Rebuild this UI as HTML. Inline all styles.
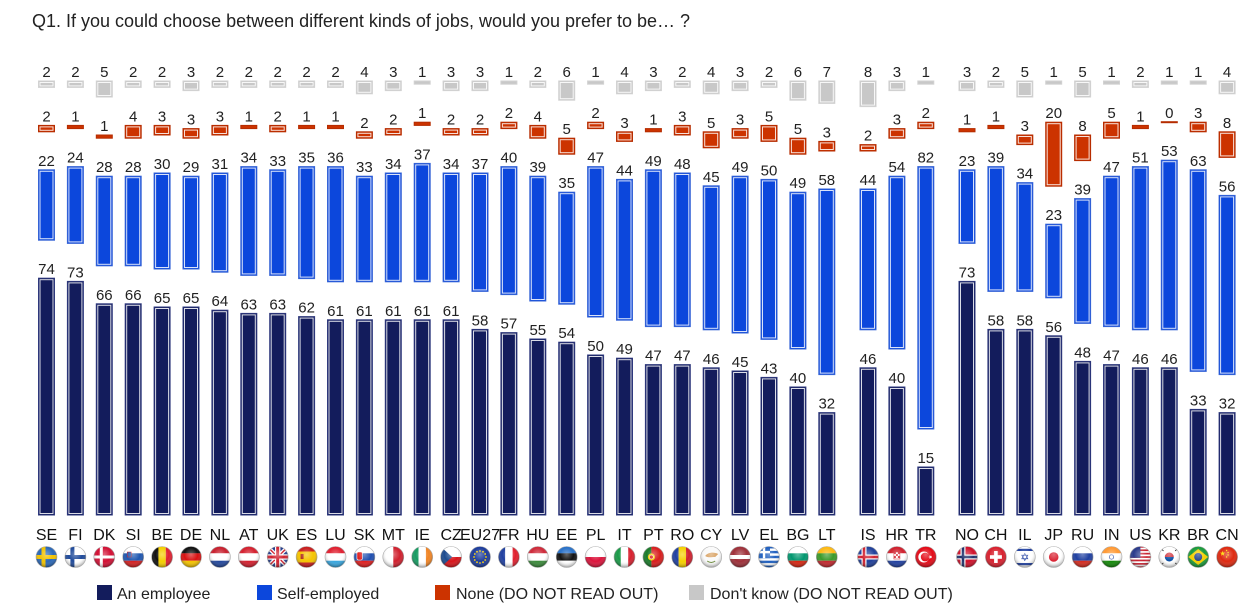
<!DOCTYPE html>
<html><head><meta charset="utf-8">
<style>
html,body{margin:0;padding:0;background:#fff;width:1256px;height:612px;overflow:hidden}
svg{display:block;font-family:"Liberation Sans",Arial,sans-serif}
.e{fill:#131c5c;stroke:#2e387c;stroke-width:1}
.s{fill:#0c47dc;stroke:#3563d6;stroke-width:1}
.n{fill:#cc3300;stroke:#b52c00;stroke-width:1}
.d{fill:#c8c8c8;stroke:#d2d2d2;stroke-width:1}
.w{fill:none;stroke:#fff;stroke-width:1;opacity:.85}
.v{font-size:15px;fill:#222;text-anchor:middle}
.c{font-size:16px;fill:#111;text-anchor:middle}
.l{font-size:16px;fill:#222}
</style></head><body>
<svg width="1256" height="612" viewBox="0 0 1256 612">
<defs>
<clipPath id="cc"><circle r="10.5"/></clipPath>
<radialGradient id="gl" cx="50%" cy="38%" r="60%">
<stop offset="0" stop-color="#fff" stop-opacity=".35"/>
<stop offset=".55" stop-color="#fff" stop-opacity="0"/>
<stop offset="1" stop-color="#000" stop-opacity=".35"/>
</radialGradient>
<polygon id="star" points="0,-1 .225,-.309 .951,-.309 .363,.118 .588,.809 0,.382 -.588,.809 -.363,.118 -.951,-.309 -.225,-.309"/>
</defs>

<text x="32" y="27" font-size="18" fill="#222">Q1. If you could choose between different kinds of jobs, would you prefer to be… ?</text>

<!-- SE -->
<g transform="translate(46.5,0)">
<rect class="d" x="-8" y="81" width="16" height="6.4"/><rect class="w" x="-6.5" y="82.5" width="13" height="3.4"/><text class="v" y="77">2</text>
<rect class="n" x="-8" y="125.4" width="16" height="6.4"/><rect class="w" x="-6.5" y="126.9" width="13" height="3.4"/><text class="v" y="121.4">2</text>
<rect class="s" x="-8" y="169.8" width="16" height="70.4"/><rect class="w" x="-6.5" y="171.3" width="13" height="67.4"/><text class="v" y="165.8">22</text>
<rect class="e" x="-8" y="278.2" width="16" height="236.8"/><rect class="w" x="-6.5" y="279.7" width="13" height="233.8"/><text class="v" y="274.2">74</text>
<text class="c" y="540">SE</text>
</g>
<!-- FI -->
<g transform="translate(75.4,0)">
<rect class="d" x="-8" y="81" width="16" height="6.4"/><rect class="w" x="-6.5" y="82.5" width="13" height="3.4"/><text class="v" y="77">2</text>
<rect class="n" x="-8" y="125.4" width="16" height="3.2"/><text class="v" y="121.4">1</text>
<rect class="s" x="-8" y="166.6" width="16" height="76.8"/><rect class="w" x="-6.5" y="168.1" width="13" height="73.8"/><text class="v" y="162.6">24</text>
<rect class="e" x="-8" y="281.4" width="16" height="233.6"/><rect class="w" x="-6.5" y="282.9" width="13" height="230.6"/><text class="v" y="277.4">73</text>
<text class="c" y="540">FI</text>
</g>
<!-- DK -->
<g transform="translate(104.3,0)">
<rect class="d" x="-8" y="81" width="16" height="16"/><rect class="w" x="-6.5" y="82.5" width="13" height="13"/><text class="v" y="77">5</text>
<rect class="n" x="-8" y="135" width="16" height="3.2"/><text class="v" y="131">1</text>
<rect class="s" x="-8" y="176.2" width="16" height="89.6"/><rect class="w" x="-6.5" y="177.7" width="13" height="86.6"/><text class="v" y="172.2">28</text>
<rect class="e" x="-8" y="303.8" width="16" height="211.2"/><rect class="w" x="-6.5" y="305.3" width="13" height="208.2"/><text class="v" y="299.8">66</text>
<text class="c" y="540">DK</text>
</g>
<!-- SI -->
<g transform="translate(133.2,0)">
<rect class="d" x="-8" y="81" width="16" height="6.4"/><rect class="w" x="-6.5" y="82.5" width="13" height="3.4"/><text class="v" y="77">2</text>
<rect class="n" x="-8" y="125.4" width="16" height="12.8"/><rect class="w" x="-6.5" y="126.9" width="13" height="9.8"/><text class="v" y="121.4">4</text>
<rect class="s" x="-8" y="176.2" width="16" height="89.6"/><rect class="w" x="-6.5" y="177.7" width="13" height="86.6"/><text class="v" y="172.2">28</text>
<rect class="e" x="-8" y="303.8" width="16" height="211.2"/><rect class="w" x="-6.5" y="305.3" width="13" height="208.2"/><text class="v" y="299.8">66</text>
<text class="c" y="540">SI</text>
</g>
<!-- BE -->
<g transform="translate(162.1,0)">
<rect class="d" x="-8" y="81" width="16" height="6.4"/><rect class="w" x="-6.5" y="82.5" width="13" height="3.4"/><text class="v" y="77">2</text>
<rect class="n" x="-8" y="125.4" width="16" height="9.6"/><rect class="w" x="-6.5" y="126.9" width="13" height="6.6"/><text class="v" y="121.4">3</text>
<rect class="s" x="-8" y="173" width="16" height="96"/><rect class="w" x="-6.5" y="174.5" width="13" height="93"/><text class="v" y="169">30</text>
<rect class="e" x="-8" y="307" width="16" height="208"/><rect class="w" x="-6.5" y="308.5" width="13" height="205"/><text class="v" y="303">65</text>
<text class="c" y="540">BE</text>
</g>
<!-- DE -->
<g transform="translate(191,0)">
<rect class="d" x="-8" y="81" width="16" height="9.6"/><rect class="w" x="-6.5" y="82.5" width="13" height="6.6"/><text class="v" y="77">3</text>
<rect class="n" x="-8" y="128.6" width="16" height="9.6"/><rect class="w" x="-6.5" y="130.1" width="13" height="6.6"/><text class="v" y="124.6">3</text>
<rect class="s" x="-8" y="176.2" width="16" height="92.8"/><rect class="w" x="-6.5" y="177.7" width="13" height="89.8"/><text class="v" y="172.2">29</text>
<rect class="e" x="-8" y="307" width="16" height="208"/><rect class="w" x="-6.5" y="308.5" width="13" height="205"/><text class="v" y="303">65</text>
<text class="c" y="540">DE</text>
</g>
<!-- NL -->
<g transform="translate(219.9,0)">
<rect class="d" x="-8" y="81" width="16" height="6.4"/><rect class="w" x="-6.5" y="82.5" width="13" height="3.4"/><text class="v" y="77">2</text>
<rect class="n" x="-8" y="125.4" width="16" height="9.6"/><rect class="w" x="-6.5" y="126.9" width="13" height="6.6"/><text class="v" y="121.4">3</text>
<rect class="s" x="-8" y="173" width="16" height="99.2"/><rect class="w" x="-6.5" y="174.5" width="13" height="96.2"/><text class="v" y="169">31</text>
<rect class="e" x="-8" y="310.2" width="16" height="204.8"/><rect class="w" x="-6.5" y="311.7" width="13" height="201.8"/><text class="v" y="306.2">64</text>
<text class="c" y="540">NL</text>
</g>
<!-- AT -->
<g transform="translate(248.8,0)">
<rect class="d" x="-8" y="81" width="16" height="6.4"/><rect class="w" x="-6.5" y="82.5" width="13" height="3.4"/><text class="v" y="77">2</text>
<rect class="n" x="-8" y="125.4" width="16" height="3.2"/><text class="v" y="121.4">1</text>
<rect class="s" x="-8" y="166.6" width="16" height="108.8"/><rect class="w" x="-6.5" y="168.1" width="13" height="105.8"/><text class="v" y="162.6">34</text>
<rect class="e" x="-8" y="313.4" width="16" height="201.6"/><rect class="w" x="-6.5" y="314.9" width="13" height="198.6"/><text class="v" y="309.4">63</text>
<text class="c" y="540">AT</text>
</g>
<!-- UK -->
<g transform="translate(277.7,0)">
<rect class="d" x="-8" y="81" width="16" height="6.4"/><rect class="w" x="-6.5" y="82.5" width="13" height="3.4"/><text class="v" y="77">2</text>
<rect class="n" x="-8" y="125.4" width="16" height="6.4"/><rect class="w" x="-6.5" y="126.9" width="13" height="3.4"/><text class="v" y="121.4">2</text>
<rect class="s" x="-8" y="169.8" width="16" height="105.6"/><rect class="w" x="-6.5" y="171.3" width="13" height="102.6"/><text class="v" y="165.8">33</text>
<rect class="e" x="-8" y="313.4" width="16" height="201.6"/><rect class="w" x="-6.5" y="314.9" width="13" height="198.6"/><text class="v" y="309.4">63</text>
<text class="c" y="540">UK</text>
</g>
<!-- ES -->
<g transform="translate(306.6,0)">
<rect class="d" x="-8" y="81" width="16" height="6.4"/><rect class="w" x="-6.5" y="82.5" width="13" height="3.4"/><text class="v" y="77">2</text>
<rect class="n" x="-8" y="125.4" width="16" height="3.2"/><text class="v" y="121.4">1</text>
<rect class="s" x="-8" y="166.6" width="16" height="112"/><rect class="w" x="-6.5" y="168.1" width="13" height="109"/><text class="v" y="162.6">35</text>
<rect class="e" x="-8" y="316.6" width="16" height="198.4"/><rect class="w" x="-6.5" y="318.1" width="13" height="195.4"/><text class="v" y="312.6">62</text>
<text class="c" y="540">ES</text>
</g>
<!-- LU -->
<g transform="translate(335.5,0)">
<rect class="d" x="-8" y="81" width="16" height="6.4"/><rect class="w" x="-6.5" y="82.5" width="13" height="3.4"/><text class="v" y="77">2</text>
<rect class="n" x="-8" y="125.4" width="16" height="3.2"/><text class="v" y="121.4">1</text>
<rect class="s" x="-8" y="166.6" width="16" height="115.2"/><rect class="w" x="-6.5" y="168.1" width="13" height="112.2"/><text class="v" y="162.6">36</text>
<rect class="e" x="-8" y="319.8" width="16" height="195.2"/><rect class="w" x="-6.5" y="321.3" width="13" height="192.2"/><text class="v" y="315.8">61</text>
<text class="c" y="540">LU</text>
</g>
<!-- SK -->
<g transform="translate(364.4,0)">
<rect class="d" x="-8" y="81" width="16" height="12.8"/><rect class="w" x="-6.5" y="82.5" width="13" height="9.8"/><text class="v" y="77">4</text>
<rect class="n" x="-8" y="131.8" width="16" height="6.4"/><rect class="w" x="-6.5" y="133.3" width="13" height="3.4"/><text class="v" y="127.8">2</text>
<rect class="s" x="-8" y="176.2" width="16" height="105.6"/><rect class="w" x="-6.5" y="177.7" width="13" height="102.6"/><text class="v" y="172.2">33</text>
<rect class="e" x="-8" y="319.8" width="16" height="195.2"/><rect class="w" x="-6.5" y="321.3" width="13" height="192.2"/><text class="v" y="315.8">61</text>
<text class="c" y="540">SK</text>
</g>
<!-- MT -->
<g transform="translate(393.3,0)">
<rect class="d" x="-8" y="81" width="16" height="9.6"/><rect class="w" x="-6.5" y="82.5" width="13" height="6.6"/><text class="v" y="77">3</text>
<rect class="n" x="-8" y="128.6" width="16" height="6.4"/><rect class="w" x="-6.5" y="130.1" width="13" height="3.4"/><text class="v" y="124.6">2</text>
<rect class="s" x="-8" y="173" width="16" height="108.8"/><rect class="w" x="-6.5" y="174.5" width="13" height="105.8"/><text class="v" y="169">34</text>
<rect class="e" x="-8" y="319.8" width="16" height="195.2"/><rect class="w" x="-6.5" y="321.3" width="13" height="192.2"/><text class="v" y="315.8">61</text>
<text class="c" y="540">MT</text>
</g>
<!-- IE -->
<g transform="translate(422.2,0)">
<rect class="d" x="-8" y="81" width="16" height="3.2"/><text class="v" y="77">1</text>
<rect class="n" x="-8" y="122.2" width="16" height="3.2"/><text class="v" y="118.2">1</text>
<rect class="s" x="-8" y="163.4" width="16" height="118.4"/><rect class="w" x="-6.5" y="164.9" width="13" height="115.4"/><text class="v" y="159.4">37</text>
<rect class="e" x="-8" y="319.8" width="16" height="195.2"/><rect class="w" x="-6.5" y="321.3" width="13" height="192.2"/><text class="v" y="315.8">61</text>
<text class="c" y="540">IE</text>
</g>
<!-- CZ -->
<g transform="translate(451.1,0)">
<rect class="d" x="-8" y="81" width="16" height="9.6"/><rect class="w" x="-6.5" y="82.5" width="13" height="6.6"/><text class="v" y="77">3</text>
<rect class="n" x="-8" y="128.6" width="16" height="6.4"/><rect class="w" x="-6.5" y="130.1" width="13" height="3.4"/><text class="v" y="124.6">2</text>
<rect class="s" x="-8" y="173" width="16" height="108.8"/><rect class="w" x="-6.5" y="174.5" width="13" height="105.8"/><text class="v" y="169">34</text>
<rect class="e" x="-8" y="319.8" width="16" height="195.2"/><rect class="w" x="-6.5" y="321.3" width="13" height="192.2"/><text class="v" y="315.8">61</text>
<text class="c" y="540">CZ</text>
</g>
<!-- EU27 -->
<g transform="translate(480,0)">
<rect class="d" x="-8" y="81" width="16" height="9.6"/><rect class="w" x="-6.5" y="82.5" width="13" height="6.6"/><text class="v" y="77">3</text>
<rect class="n" x="-8" y="128.6" width="16" height="6.4"/><rect class="w" x="-6.5" y="130.1" width="13" height="3.4"/><text class="v" y="124.6">2</text>
<rect class="s" x="-8" y="173" width="16" height="118.4"/><rect class="w" x="-6.5" y="174.5" width="13" height="115.4"/><text class="v" y="169">37</text>
<rect class="e" x="-8" y="329.4" width="16" height="185.6"/><rect class="w" x="-6.5" y="330.9" width="13" height="182.6"/><text class="v" y="325.4">58</text>
<text class="c" y="540">EU27</text>
</g>
<!-- FR -->
<g transform="translate(508.9,0)">
<rect class="d" x="-8" y="81" width="16" height="3.2"/><text class="v" y="77">1</text>
<rect class="n" x="-8" y="122.2" width="16" height="6.4"/><rect class="w" x="-6.5" y="123.7" width="13" height="3.4"/><text class="v" y="118.2">2</text>
<rect class="s" x="-8" y="166.6" width="16" height="128"/><rect class="w" x="-6.5" y="168.1" width="13" height="125"/><text class="v" y="162.6">40</text>
<rect class="e" x="-8" y="332.6" width="16" height="182.4"/><rect class="w" x="-6.5" y="334.1" width="13" height="179.4"/><text class="v" y="328.6">57</text>
<text class="c" y="540">FR</text>
</g>
<!-- HU -->
<g transform="translate(537.8,0)">
<rect class="d" x="-8" y="81" width="16" height="6.4"/><rect class="w" x="-6.5" y="82.5" width="13" height="3.4"/><text class="v" y="77">2</text>
<rect class="n" x="-8" y="125.4" width="16" height="12.8"/><rect class="w" x="-6.5" y="126.9" width="13" height="9.8"/><text class="v" y="121.4">4</text>
<rect class="s" x="-8" y="176.2" width="16" height="124.8"/><rect class="w" x="-6.5" y="177.7" width="13" height="121.8"/><text class="v" y="172.2">39</text>
<rect class="e" x="-8" y="339" width="16" height="176"/><rect class="w" x="-6.5" y="340.5" width="13" height="173"/><text class="v" y="335">55</text>
<text class="c" y="540">HU</text>
</g>
<!-- EE -->
<g transform="translate(566.7,0)">
<rect class="d" x="-8" y="81" width="16" height="19.2"/><rect class="w" x="-6.5" y="82.5" width="13" height="16.2"/><text class="v" y="77">6</text>
<rect class="n" x="-8" y="138.2" width="16" height="16"/><rect class="w" x="-6.5" y="139.7" width="13" height="13"/><text class="v" y="134.2">5</text>
<rect class="s" x="-8" y="192.2" width="16" height="112"/><rect class="w" x="-6.5" y="193.7" width="13" height="109"/><text class="v" y="188.2">35</text>
<rect class="e" x="-8" y="342.2" width="16" height="172.8"/><rect class="w" x="-6.5" y="343.7" width="13" height="169.8"/><text class="v" y="338.2">54</text>
<text class="c" y="540">EE</text>
</g>
<!-- PL -->
<g transform="translate(595.6,0)">
<rect class="d" x="-8" y="81" width="16" height="3.2"/><text class="v" y="77">1</text>
<rect class="n" x="-8" y="122.2" width="16" height="6.4"/><rect class="w" x="-6.5" y="123.7" width="13" height="3.4"/><text class="v" y="118.2">2</text>
<rect class="s" x="-8" y="166.6" width="16" height="150.4"/><rect class="w" x="-6.5" y="168.1" width="13" height="147.4"/><text class="v" y="162.6">47</text>
<rect class="e" x="-8" y="355" width="16" height="160"/><rect class="w" x="-6.5" y="356.5" width="13" height="157"/><text class="v" y="351">50</text>
<text class="c" y="540">PL</text>
</g>
<!-- IT -->
<g transform="translate(624.5,0)">
<rect class="d" x="-8" y="81" width="16" height="12.8"/><rect class="w" x="-6.5" y="82.5" width="13" height="9.8"/><text class="v" y="77">4</text>
<rect class="n" x="-8" y="131.8" width="16" height="9.6"/><rect class="w" x="-6.5" y="133.3" width="13" height="6.6"/><text class="v" y="127.8">3</text>
<rect class="s" x="-8" y="179.4" width="16" height="140.8"/><rect class="w" x="-6.5" y="180.9" width="13" height="137.8"/><text class="v" y="175.4">44</text>
<rect class="e" x="-8" y="358.2" width="16" height="156.8"/><rect class="w" x="-6.5" y="359.7" width="13" height="153.8"/><text class="v" y="354.2">49</text>
<text class="c" y="540">IT</text>
</g>
<!-- PT -->
<g transform="translate(653.4,0)">
<rect class="d" x="-8" y="81" width="16" height="9.6"/><rect class="w" x="-6.5" y="82.5" width="13" height="6.6"/><text class="v" y="77">3</text>
<rect class="n" x="-8" y="128.6" width="16" height="3.2"/><text class="v" y="124.6">1</text>
<rect class="s" x="-8" y="169.8" width="16" height="156.8"/><rect class="w" x="-6.5" y="171.3" width="13" height="153.8"/><text class="v" y="165.8">49</text>
<rect class="e" x="-8" y="364.6" width="16" height="150.4"/><rect class="w" x="-6.5" y="366.1" width="13" height="147.4"/><text class="v" y="360.6">47</text>
<text class="c" y="540">PT</text>
</g>
<!-- RO -->
<g transform="translate(682.3,0)">
<rect class="d" x="-8" y="81" width="16" height="6.4"/><rect class="w" x="-6.5" y="82.5" width="13" height="3.4"/><text class="v" y="77">2</text>
<rect class="n" x="-8" y="125.4" width="16" height="9.6"/><rect class="w" x="-6.5" y="126.9" width="13" height="6.6"/><text class="v" y="121.4">3</text>
<rect class="s" x="-8" y="173" width="16" height="153.6"/><rect class="w" x="-6.5" y="174.5" width="13" height="150.6"/><text class="v" y="169">48</text>
<rect class="e" x="-8" y="364.6" width="16" height="150.4"/><rect class="w" x="-6.5" y="366.1" width="13" height="147.4"/><text class="v" y="360.6">47</text>
<text class="c" y="540">RO</text>
</g>
<!-- CY -->
<g transform="translate(711.2,0)">
<rect class="d" x="-8" y="81" width="16" height="12.8"/><rect class="w" x="-6.5" y="82.5" width="13" height="9.8"/><text class="v" y="77">4</text>
<rect class="n" x="-8" y="131.8" width="16" height="16"/><rect class="w" x="-6.5" y="133.3" width="13" height="13"/><text class="v" y="127.8">5</text>
<rect class="s" x="-8" y="185.8" width="16" height="144"/><rect class="w" x="-6.5" y="187.3" width="13" height="141"/><text class="v" y="181.8">45</text>
<rect class="e" x="-8" y="367.8" width="16" height="147.2"/><rect class="w" x="-6.5" y="369.3" width="13" height="144.2"/><text class="v" y="363.8">46</text>
<text class="c" y="540">CY</text>
</g>
<!-- LV -->
<g transform="translate(740.1,0)">
<rect class="d" x="-8" y="81" width="16" height="9.6"/><rect class="w" x="-6.5" y="82.5" width="13" height="6.6"/><text class="v" y="77">3</text>
<rect class="n" x="-8" y="128.6" width="16" height="9.6"/><rect class="w" x="-6.5" y="130.1" width="13" height="6.6"/><text class="v" y="124.6">3</text>
<rect class="s" x="-8" y="176.2" width="16" height="156.8"/><rect class="w" x="-6.5" y="177.7" width="13" height="153.8"/><text class="v" y="172.2">49</text>
<rect class="e" x="-8" y="371" width="16" height="144"/><rect class="w" x="-6.5" y="372.5" width="13" height="141"/><text class="v" y="367">45</text>
<text class="c" y="540">LV</text>
</g>
<!-- EL -->
<g transform="translate(769,0)">
<rect class="d" x="-8" y="81" width="16" height="6.4"/><rect class="w" x="-6.5" y="82.5" width="13" height="3.4"/><text class="v" y="77">2</text>
<rect class="n" x="-8" y="125.4" width="16" height="16"/><rect class="w" x="-6.5" y="126.9" width="13" height="13"/><text class="v" y="121.4">5</text>
<rect class="s" x="-8" y="179.4" width="16" height="160"/><rect class="w" x="-6.5" y="180.9" width="13" height="157"/><text class="v" y="175.4">50</text>
<rect class="e" x="-8" y="377.4" width="16" height="137.6"/><rect class="w" x="-6.5" y="378.9" width="13" height="134.6"/><text class="v" y="373.4">43</text>
<text class="c" y="540">EL</text>
</g>
<!-- BG -->
<g transform="translate(797.9,0)">
<rect class="d" x="-8" y="81" width="16" height="19.2"/><rect class="w" x="-6.5" y="82.5" width="13" height="16.2"/><text class="v" y="77">6</text>
<rect class="n" x="-8" y="138.2" width="16" height="16"/><rect class="w" x="-6.5" y="139.7" width="13" height="13"/><text class="v" y="134.2">5</text>
<rect class="s" x="-8" y="192.2" width="16" height="156.8"/><rect class="w" x="-6.5" y="193.7" width="13" height="153.8"/><text class="v" y="188.2">49</text>
<rect class="e" x="-8" y="387" width="16" height="128"/><rect class="w" x="-6.5" y="388.5" width="13" height="125"/><text class="v" y="383">40</text>
<text class="c" y="540">BG</text>
</g>
<!-- LT -->
<g transform="translate(826.8,0)">
<rect class="d" x="-8" y="81" width="16" height="22.4"/><rect class="w" x="-6.5" y="82.5" width="13" height="19.4"/><text class="v" y="77">7</text>
<rect class="n" x="-8" y="141.4" width="16" height="9.6"/><rect class="w" x="-6.5" y="142.9" width="13" height="6.6"/><text class="v" y="137.4">3</text>
<rect class="s" x="-8" y="189" width="16" height="185.6"/><rect class="w" x="-6.5" y="190.5" width="13" height="182.6"/><text class="v" y="185">58</text>
<rect class="e" x="-8" y="412.6" width="16" height="102.4"/><rect class="w" x="-6.5" y="414.1" width="13" height="99.4"/><text class="v" y="408.6">32</text>
<text class="c" y="540">LT</text>
</g>
<!-- IS -->
<g transform="translate(868,0)">
<rect class="d" x="-8" y="81" width="16" height="25.6"/><rect class="w" x="-6.5" y="82.5" width="13" height="22.6"/><text class="v" y="77">8</text>
<rect class="n" x="-8" y="144.6" width="16" height="6.4"/><rect class="w" x="-6.5" y="146.1" width="13" height="3.4"/><text class="v" y="140.6">2</text>
<rect class="s" x="-8" y="189" width="16" height="140.8"/><rect class="w" x="-6.5" y="190.5" width="13" height="137.8"/><text class="v" y="185">44</text>
<rect class="e" x="-8" y="367.8" width="16" height="147.2"/><rect class="w" x="-6.5" y="369.3" width="13" height="144.2"/><text class="v" y="363.8">46</text>
<text class="c" y="540">IS</text>
</g>
<!-- HR -->
<g transform="translate(896.9,0)">
<rect class="d" x="-8" y="81" width="16" height="9.6"/><rect class="w" x="-6.5" y="82.5" width="13" height="6.6"/><text class="v" y="77">3</text>
<rect class="n" x="-8" y="128.6" width="16" height="9.6"/><rect class="w" x="-6.5" y="130.1" width="13" height="6.6"/><text class="v" y="124.6">3</text>
<rect class="s" x="-8" y="176.2" width="16" height="172.8"/><rect class="w" x="-6.5" y="177.7" width="13" height="169.8"/><text class="v" y="172.2">54</text>
<rect class="e" x="-8" y="387" width="16" height="128"/><rect class="w" x="-6.5" y="388.5" width="13" height="125"/><text class="v" y="383">40</text>
<text class="c" y="540">HR</text>
</g>
<!-- TR -->
<g transform="translate(925.8,0)">
<rect class="d" x="-8" y="81" width="16" height="3.2"/><text class="v" y="77">1</text>
<rect class="n" x="-8" y="122.2" width="16" height="6.4"/><rect class="w" x="-6.5" y="123.7" width="13" height="3.4"/><text class="v" y="118.2">2</text>
<rect class="s" x="-8" y="166.6" width="16" height="262.4"/><rect class="w" x="-6.5" y="168.1" width="13" height="259.4"/><text class="v" y="162.6">82</text>
<rect class="e" x="-8" y="467" width="16" height="48"/><rect class="w" x="-6.5" y="468.5" width="13" height="45"/><text class="v" y="463">15</text>
<text class="c" y="540">TR</text>
</g>
<!-- NO -->
<g transform="translate(967,0)">
<rect class="d" x="-8" y="81" width="16" height="9.6"/><rect class="w" x="-6.5" y="82.5" width="13" height="6.6"/><text class="v" y="77">3</text>
<rect class="n" x="-8" y="128.6" width="16" height="3.2"/><text class="v" y="124.6">1</text>
<rect class="s" x="-8" y="169.8" width="16" height="73.6"/><rect class="w" x="-6.5" y="171.3" width="13" height="70.6"/><text class="v" y="165.8">23</text>
<rect class="e" x="-8" y="281.4" width="16" height="233.6"/><rect class="w" x="-6.5" y="282.9" width="13" height="230.6"/><text class="v" y="277.4">73</text>
<text class="c" y="540">NO</text>
</g>
<!-- CH -->
<g transform="translate(995.9,0)">
<rect class="d" x="-8" y="81" width="16" height="6.4"/><rect class="w" x="-6.5" y="82.5" width="13" height="3.4"/><text class="v" y="77">2</text>
<rect class="n" x="-8" y="125.4" width="16" height="3.2"/><text class="v" y="121.4">1</text>
<rect class="s" x="-8" y="166.6" width="16" height="124.8"/><rect class="w" x="-6.5" y="168.1" width="13" height="121.8"/><text class="v" y="162.6">39</text>
<rect class="e" x="-8" y="329.4" width="16" height="185.6"/><rect class="w" x="-6.5" y="330.9" width="13" height="182.6"/><text class="v" y="325.4">58</text>
<text class="c" y="540">CH</text>
</g>
<!-- IL -->
<g transform="translate(1024.8,0)">
<rect class="d" x="-8" y="81" width="16" height="16"/><rect class="w" x="-6.5" y="82.5" width="13" height="13"/><text class="v" y="77">5</text>
<rect class="n" x="-8" y="135" width="16" height="9.6"/><rect class="w" x="-6.5" y="136.5" width="13" height="6.6"/><text class="v" y="131">3</text>
<rect class="s" x="-8" y="182.6" width="16" height="108.8"/><rect class="w" x="-6.5" y="184.1" width="13" height="105.8"/><text class="v" y="178.6">34</text>
<rect class="e" x="-8" y="329.4" width="16" height="185.6"/><rect class="w" x="-6.5" y="330.9" width="13" height="182.6"/><text class="v" y="325.4">58</text>
<text class="c" y="540">IL</text>
</g>
<!-- JP -->
<g transform="translate(1053.7,0)">
<rect class="d" x="-8" y="81" width="16" height="3.2"/><text class="v" y="77">1</text>
<rect class="n" x="-8" y="122.2" width="16" height="64"/><rect class="w" x="-6.5" y="123.7" width="13" height="61"/><text class="v" y="118.2">20</text>
<rect class="s" x="-8" y="224.2" width="16" height="73.6"/><rect class="w" x="-6.5" y="225.7" width="13" height="70.6"/><text class="v" y="220.2">23</text>
<rect class="e" x="-8" y="335.8" width="16" height="179.2"/><rect class="w" x="-6.5" y="337.3" width="13" height="176.2"/><text class="v" y="331.8">56</text>
<text class="c" y="540">JP</text>
</g>
<!-- RU -->
<g transform="translate(1082.6,0)">
<rect class="d" x="-8" y="81" width="16" height="16"/><rect class="w" x="-6.5" y="82.5" width="13" height="13"/><text class="v" y="77">5</text>
<rect class="n" x="-8" y="135" width="16" height="25.6"/><rect class="w" x="-6.5" y="136.5" width="13" height="22.6"/><text class="v" y="131">8</text>
<rect class="s" x="-8" y="198.6" width="16" height="124.8"/><rect class="w" x="-6.5" y="200.1" width="13" height="121.8"/><text class="v" y="194.6">39</text>
<rect class="e" x="-8" y="361.4" width="16" height="153.6"/><rect class="w" x="-6.5" y="362.9" width="13" height="150.6"/><text class="v" y="357.4">48</text>
<text class="c" y="540">RU</text>
</g>
<!-- IN -->
<g transform="translate(1111.5,0)">
<rect class="d" x="-8" y="81" width="16" height="3.2"/><text class="v" y="77">1</text>
<rect class="n" x="-8" y="122.2" width="16" height="16"/><rect class="w" x="-6.5" y="123.7" width="13" height="13"/><text class="v" y="118.2">5</text>
<rect class="s" x="-8" y="176.2" width="16" height="150.4"/><rect class="w" x="-6.5" y="177.7" width="13" height="147.4"/><text class="v" y="172.2">47</text>
<rect class="e" x="-8" y="364.6" width="16" height="150.4"/><rect class="w" x="-6.5" y="366.1" width="13" height="147.4"/><text class="v" y="360.6">47</text>
<text class="c" y="540">IN</text>
</g>
<!-- US -->
<g transform="translate(1140.4,0)">
<rect class="d" x="-8" y="81" width="16" height="6.4"/><rect class="w" x="-6.5" y="82.5" width="13" height="3.4"/><text class="v" y="77">2</text>
<rect class="n" x="-8" y="125.4" width="16" height="3.2"/><text class="v" y="121.4">1</text>
<rect class="s" x="-8" y="166.6" width="16" height="163.2"/><rect class="w" x="-6.5" y="168.1" width="13" height="160.2"/><text class="v" y="162.6">51</text>
<rect class="e" x="-8" y="367.8" width="16" height="147.2"/><rect class="w" x="-6.5" y="369.3" width="13" height="144.2"/><text class="v" y="363.8">46</text>
<text class="c" y="540">US</text>
</g>
<!-- KR -->
<g transform="translate(1169.3,0)">
<rect class="d" x="-8" y="81" width="16" height="3.2"/><text class="v" y="77">1</text>
<rect class="n" x="-8" y="121.7" width="16" height="1"/><text class="v" y="118.2">0</text>
<rect class="s" x="-8" y="160.2" width="16" height="169.6"/><rect class="w" x="-6.5" y="161.7" width="13" height="166.6"/><text class="v" y="156.2">53</text>
<rect class="e" x="-8" y="367.8" width="16" height="147.2"/><rect class="w" x="-6.5" y="369.3" width="13" height="144.2"/><text class="v" y="363.8">46</text>
<text class="c" y="540">KR</text>
</g>
<!-- BR -->
<g transform="translate(1198.2,0)">
<rect class="d" x="-8" y="81" width="16" height="3.2"/><text class="v" y="77">1</text>
<rect class="n" x="-8" y="122.2" width="16" height="9.6"/><rect class="w" x="-6.5" y="123.7" width="13" height="6.6"/><text class="v" y="118.2">3</text>
<rect class="s" x="-8" y="169.8" width="16" height="201.6"/><rect class="w" x="-6.5" y="171.3" width="13" height="198.6"/><text class="v" y="165.8">63</text>
<rect class="e" x="-8" y="409.4" width="16" height="105.6"/><rect class="w" x="-6.5" y="410.9" width="13" height="102.6"/><text class="v" y="405.4">33</text>
<text class="c" y="540">BR</text>
</g>
<!-- CN -->
<g transform="translate(1227.1,0)">
<rect class="d" x="-8" y="81" width="16" height="12.8"/><rect class="w" x="-6.5" y="82.5" width="13" height="9.8"/><text class="v" y="77">4</text>
<rect class="n" x="-8" y="131.8" width="16" height="25.6"/><rect class="w" x="-6.5" y="133.3" width="13" height="22.6"/><text class="v" y="127.8">8</text>
<rect class="s" x="-8" y="195.4" width="16" height="179.2"/><rect class="w" x="-6.5" y="196.9" width="13" height="176.2"/><text class="v" y="191.4">56</text>
<rect class="e" x="-8" y="412.6" width="16" height="102.4"/><rect class="w" x="-6.5" y="414.1" width="13" height="99.4"/><text class="v" y="408.6">32</text>
<text class="c" y="540">CN</text>
</g>

<!-- FLAGS -->
<g id="flags">
<!-- SE -->
<g transform="translate(46.5,557)"><g clip-path="url(#cc)"><rect x="-11" y="-11" width="22" height="22" fill="#2a68b8"/><rect x="-5" y="-11" width="4" height="22" fill="#f2c200"/><rect x="-11" y="-2" width="22" height="4" fill="#f2c200"/></g><circle r="10.5" fill="url(#gl)"/><circle r="10.5" fill="none" stroke="#aaa" stroke-width=".6"/></g>
<!-- FI -->
<g transform="translate(75.4,557)"><g clip-path="url(#cc)"><rect x="-11" y="-11" width="22" height="22" fill="#fff"/><rect x="-5" y="-11" width="4" height="22" fill="#1f4a9a"/><rect x="-11" y="-2" width="22" height="4" fill="#1f4a9a"/></g><circle r="10.5" fill="url(#gl)"/><circle r="10.5" fill="none" stroke="#aaa" stroke-width=".6"/></g>
<!-- DK -->
<g transform="translate(104.3,557)"><g clip-path="url(#cc)"><rect x="-11" y="-11" width="22" height="22" fill="#d21034"/><rect x="-4.5" y="-11" width="3" height="22" fill="#fff"/><rect x="-11" y="-1.5" width="22" height="3" fill="#fff"/></g><circle r="10.5" fill="url(#gl)"/><circle r="10.5" fill="none" stroke="#aaa" stroke-width=".6"/></g>
<!-- SI -->
<g transform="translate(133.2,557)"><g clip-path="url(#cc)"><rect x="-11" y="-11" width="22" height="7.4" fill="#fff"/><rect x="-11" y="-3.7" width="22" height="7.4" fill="#1e56b0"/><rect x="-11" y="3.7" width="22" height="7.4" fill="#d42020"/><rect x="-6" y="-5" width="4" height="5" fill="#1e56b0" stroke="#d42020" stroke-width=".5"/></g><circle r="10.5" fill="url(#gl)"/><circle r="10.5" fill="none" stroke="#aaa" stroke-width=".6"/></g>
<!-- BE -->
<g transform="translate(162.1,557)"><g clip-path="url(#cc)"><rect x="-11" y="-11" width="7.4" height="22" fill="#111"/><rect x="-3.7" y="-11" width="7.4" height="22" fill="#f4cf00"/><rect x="3.7" y="-11" width="7.4" height="22" fill="#e02030"/></g><circle r="10.5" fill="url(#gl)"/><circle r="10.5" fill="none" stroke="#aaa" stroke-width=".6"/></g>
<!-- DE -->
<g transform="translate(191,557)"><g clip-path="url(#cc)"><rect x="-11" y="-11" width="22" height="7.4" fill="#111"/><rect x="-11" y="-3.7" width="22" height="7.4" fill="#d81010"/><rect x="-11" y="3.7" width="22" height="7.4" fill="#f4c400"/></g><circle r="10.5" fill="url(#gl)"/><circle r="10.5" fill="none" stroke="#aaa" stroke-width=".6"/></g>
<!-- NL -->
<g transform="translate(219.9,557)"><g clip-path="url(#cc)"><rect x="-11" y="-11" width="22" height="7.4" fill="#c8202e"/><rect x="-11" y="-3.7" width="22" height="7.4" fill="#fff"/><rect x="-11" y="3.7" width="22" height="7.4" fill="#23489c"/></g><circle r="10.5" fill="url(#gl)"/><circle r="10.5" fill="none" stroke="#aaa" stroke-width=".6"/></g>
<!-- AT -->
<g transform="translate(248.8,557)"><g clip-path="url(#cc)"><rect x="-11" y="-11" width="22" height="7.4" fill="#d4202e"/><rect x="-11" y="-3.7" width="22" height="7.4" fill="#fff"/><rect x="-11" y="3.7" width="22" height="7.4" fill="#d4202e"/></g><circle r="10.5" fill="url(#gl)"/><circle r="10.5" fill="none" stroke="#aaa" stroke-width=".6"/></g>
<!-- UK -->
<g transform="translate(277.7,557)"><g clip-path="url(#cc)"><rect x="-11" y="-11" width="22" height="22" fill="#243c8c"/><path d="M-11-11L11 11M11-11L-11 11" stroke="#fff" stroke-width="4"/><path d="M-11-11L11 11M11-11L-11 11" stroke="#d0202e" stroke-width="1.4"/><rect x="-11" y="-2.7" width="22" height="5.4" fill="#fff"/><rect x="-2.7" y="-11" width="5.4" height="22" fill="#fff"/><rect x="-11" y="-1.5" width="22" height="3" fill="#d0202e"/><rect x="-1.5" y="-11" width="3" height="22" fill="#d0202e"/></g><circle r="10.5" fill="url(#gl)"/><circle r="10.5" fill="none" stroke="#aaa" stroke-width=".6"/></g>
<!-- ES -->
<g transform="translate(306.6,557)"><g clip-path="url(#cc)"><rect x="-11" y="-11" width="22" height="22" fill="#c81e1e"/><rect x="-11" y="-5.5" width="22" height="11" fill="#f5c400"/><rect x="-6" y="-3" width="3" height="5" fill="#b03020"/></g><circle r="10.5" fill="url(#gl)"/><circle r="10.5" fill="none" stroke="#aaa" stroke-width=".6"/></g>
<!-- LU -->
<g transform="translate(335.5,557)"><g clip-path="url(#cc)"><rect x="-11" y="-11" width="22" height="7.4" fill="#e02030"/><rect x="-11" y="-3.7" width="22" height="7.4" fill="#fff"/><rect x="-11" y="3.7" width="22" height="7.4" fill="#38a6de"/></g><circle r="10.5" fill="url(#gl)"/><circle r="10.5" fill="none" stroke="#aaa" stroke-width=".6"/></g>
<!-- SK -->
<g transform="translate(364.4,557)"><g clip-path="url(#cc)"><rect x="-11" y="-11" width="22" height="7.4" fill="#fff"/><rect x="-11" y="-3.7" width="22" height="7.4" fill="#1f4fb0"/><rect x="-11" y="3.7" width="22" height="7.4" fill="#e01e1e"/><rect x="-7.5" y="-5" width="5.5" height="8" rx="1.5" fill="#e01e1e" stroke="#fff" stroke-width=".6"/></g><circle r="10.5" fill="url(#gl)"/><circle r="10.5" fill="none" stroke="#aaa" stroke-width=".6"/></g>
<!-- MT -->
<g transform="translate(393.3,557)"><g clip-path="url(#cc)"><rect x="-11" y="-11" width="11" height="22" fill="#fff"/><rect x="0" y="-11" width="11" height="22" fill="#d0202e"/></g><circle r="10.5" fill="url(#gl)"/><circle r="10.5" fill="none" stroke="#aaa" stroke-width=".6"/></g>
<!-- IE -->
<g transform="translate(422.2,557)"><g clip-path="url(#cc)"><rect x="-11" y="-11" width="7.4" height="22" fill="#169b62"/><rect x="-3.7" y="-11" width="7.4" height="22" fill="#fff"/><rect x="3.7" y="-11" width="7.4" height="22" fill="#f08424"/></g><circle r="10.5" fill="url(#gl)"/><circle r="10.5" fill="none" stroke="#aaa" stroke-width=".6"/></g>
<!-- CZ -->
<g transform="translate(451.1,557)"><g clip-path="url(#cc)"><rect x="-11" y="-11" width="22" height="11" fill="#fff"/><rect x="-11" y="0" width="22" height="11" fill="#d7141a"/><polygon points="-11,-11 1,0 -11,11" fill="#1b4a8e"/></g><circle r="10.5" fill="url(#gl)"/><circle r="10.5" fill="none" stroke="#aaa" stroke-width=".6"/></g>
<!-- EU27 -->
<g transform="translate(480,557)"><g clip-path="url(#cc)"><rect x="-11" y="-11" width="22" height="22" fill="#1c3c9c"/><g fill="#ffd400"><circle cx="0" cy="-6" r=".9"/><circle cx="3" cy="-5.2" r=".9"/><circle cx="5.2" cy="-3" r=".9"/><circle cx="6" cy="0" r=".9"/><circle cx="5.2" cy="3" r=".9"/><circle cx="3" cy="5.2" r=".9"/><circle cx="0" cy="6" r=".9"/><circle cx="-3" cy="5.2" r=".9"/><circle cx="-5.2" cy="3" r=".9"/><circle cx="-6" cy="0" r=".9"/><circle cx="-5.2" cy="-3" r=".9"/><circle cx="-3" cy="-5.2" r=".9"/></g></g><circle r="10.5" fill="url(#gl)"/><circle r="10.5" fill="none" stroke="#aaa" stroke-width=".6"/></g>
<!-- FR -->
<g transform="translate(508.9,557)"><g clip-path="url(#cc)"><rect x="-11" y="-11" width="7.4" height="22" fill="#1f3fa0"/><rect x="-3.7" y="-11" width="7.4" height="22" fill="#fff"/><rect x="3.7" y="-11" width="7.4" height="22" fill="#e0202e"/></g><circle r="10.5" fill="url(#gl)"/><circle r="10.5" fill="none" stroke="#aaa" stroke-width=".6"/></g>
<!-- HU -->
<g transform="translate(537.8,557)"><g clip-path="url(#cc)"><rect x="-11" y="-11" width="22" height="7.4" fill="#ce2939"/><rect x="-11" y="-3.7" width="22" height="7.4" fill="#fff"/><rect x="-11" y="3.7" width="22" height="7.4" fill="#3a8a3a"/></g><circle r="10.5" fill="url(#gl)"/><circle r="10.5" fill="none" stroke="#aaa" stroke-width=".6"/></g>
<!-- EE -->
<g transform="translate(566.7,557)"><g clip-path="url(#cc)"><rect x="-11" y="-11" width="22" height="7.4" fill="#2a72c8"/><rect x="-11" y="-3.7" width="22" height="7.4" fill="#111"/><rect x="-11" y="3.7" width="22" height="7.4" fill="#fff"/></g><circle r="10.5" fill="url(#gl)"/><circle r="10.5" fill="none" stroke="#aaa" stroke-width=".6"/></g>
<!-- PL -->
<g transform="translate(595.6,557)"><g clip-path="url(#cc)"><rect x="-11" y="-11" width="22" height="11" fill="#fff"/><rect x="-11" y="0" width="22" height="11" fill="#dc143c"/></g><circle r="10.5" fill="url(#gl)"/><circle r="10.5" fill="none" stroke="#aaa" stroke-width=".6"/></g>
<!-- IT -->
<g transform="translate(624.5,557)"><g clip-path="url(#cc)"><rect x="-11" y="-11" width="7.4" height="22" fill="#1a9a48"/><rect x="-3.7" y="-11" width="7.4" height="22" fill="#fff"/><rect x="3.7" y="-11" width="7.4" height="22" fill="#d8202e"/></g><circle r="10.5" fill="url(#gl)"/><circle r="10.5" fill="none" stroke="#aaa" stroke-width=".6"/></g>
<!-- PT -->
<g transform="translate(653.4,557)"><g clip-path="url(#cc)"><rect x="-11" y="-11" width="9" height="22" fill="#1a7a2a"/><rect x="-2" y="-11" width="13" height="22" fill="#d81e1e"/><circle cx="-2" cy="0" r="3.6" fill="#f5d000"/><circle cx="-2" cy="0" r="2" fill="#d81e1e" stroke="#fff" stroke-width=".5"/></g><circle r="10.5" fill="url(#gl)"/><circle r="10.5" fill="none" stroke="#aaa" stroke-width=".6"/></g>
<!-- RO -->
<g transform="translate(682.3,557)"><g clip-path="url(#cc)"><rect x="-11" y="-11" width="7.4" height="22" fill="#1f3fa0"/><rect x="-3.7" y="-11" width="7.4" height="22" fill="#f5d000"/><rect x="3.7" y="-11" width="7.4" height="22" fill="#d0202e"/></g><circle r="10.5" fill="url(#gl)"/><circle r="10.5" fill="none" stroke="#aaa" stroke-width=".6"/></g>
<!-- CY -->
<g transform="translate(711.2,557)"><g clip-path="url(#cc)"><rect x="-11" y="-11" width="22" height="22" fill="#fafafa"/><path d="M-6-1C-3-5 3-5 7-3L4 0C0 0-3 1-6-1Z" fill="#d8a060"/><path d="M-4 4Q0 7 4 4" stroke="#6a8a3a" fill="none" stroke-width="1"/></g><circle r="10.5" fill="url(#gl)"/><circle r="10.5" fill="none" stroke="#aaa" stroke-width=".6"/></g>
<!-- LV -->
<g transform="translate(740.1,557)"><g clip-path="url(#cc)"><rect x="-11" y="-11" width="22" height="22" fill="#9e3039"/><rect x="-11" y="-2" width="22" height="4" fill="#fff"/></g><circle r="10.5" fill="url(#gl)"/><circle r="10.5" fill="none" stroke="#aaa" stroke-width=".6"/></g>
<!-- EL -->
<g transform="translate(769,557)"><g clip-path="url(#cc)"><rect x="-11" y="-11" width="22" height="22" fill="#1f5fbf"/><g fill="#fff"><rect x="-11" y="-8.56" width="22" height="2.44"/><rect x="-11" y="-3.67" width="22" height="2.44"/><rect x="-11" y="1.22" width="22" height="2.44"/><rect x="-11" y="6.11" width="22" height="2.44"/></g><rect x="-11" y="-11" width="12" height="12.2" fill="#1f5fbf"/><rect x="-6.2" y="-11" width="2.44" height="12.2" fill="#fff"/><rect x="-11" y="-6.1" width="12" height="2.44" fill="#fff"/></g><circle r="10.5" fill="url(#gl)"/><circle r="10.5" fill="none" stroke="#aaa" stroke-width=".6"/></g>
<!-- BG -->
<g transform="translate(797.9,557)"><g clip-path="url(#cc)"><rect x="-11" y="-11" width="22" height="7.4" fill="#fff"/><rect x="-11" y="-3.7" width="22" height="7.4" fill="#00966e"/><rect x="-11" y="3.7" width="22" height="7.4" fill="#d62612"/></g><circle r="10.5" fill="url(#gl)"/><circle r="10.5" fill="none" stroke="#aaa" stroke-width=".6"/></g>
<!-- LT -->
<g transform="translate(826.8,557)"><g clip-path="url(#cc)"><rect x="-11" y="-11" width="22" height="7.4" fill="#fdb913"/><rect x="-11" y="-3.7" width="22" height="7.4" fill="#3a9a2a"/><rect x="-11" y="3.7" width="22" height="7.4" fill="#c1272d"/></g><circle r="10.5" fill="url(#gl)"/><circle r="10.5" fill="none" stroke="#aaa" stroke-width=".6"/></g>
<!-- IS -->
<g transform="translate(868,557)"><g clip-path="url(#cc)"><rect x="-11" y="-11" width="22" height="22" fill="#1f3f9a"/><rect x="-6.5" y="-11" width="5" height="22" fill="#fff"/><rect x="-11" y="-2.5" width="22" height="5" fill="#fff"/><rect x="-5.3" y="-11" width="2.6" height="22" fill="#d0202e"/><rect x="-11" y="-1.3" width="22" height="2.6" fill="#d0202e"/></g><circle r="10.5" fill="url(#gl)"/><circle r="10.5" fill="none" stroke="#aaa" stroke-width=".6"/></g>
<!-- HR -->
<g transform="translate(896.9,557)"><g clip-path="url(#cc)"><rect x="-11" y="-11" width="22" height="7.4" fill="#d0202e"/><rect x="-11" y="-3.7" width="22" height="7.4" fill="#fff"/><rect x="-11" y="3.7" width="22" height="7.4" fill="#1f3fa0"/><rect x="-3" y="-5" width="6" height="7" fill="#fff" stroke="#d0202e" stroke-width=".6"/><rect x="-3" y="-5" width="2" height="2" fill="#d0202e"/><rect x="1" y="-5" width="2" height="2" fill="#d0202e"/><rect x="-1" y="-3" width="2" height="2" fill="#d0202e"/><rect x="-3" y="-1" width="2" height="2" fill="#d0202e"/><rect x="1" y="-1" width="2" height="2" fill="#d0202e"/></g><circle r="10.5" fill="url(#gl)"/><circle r="10.5" fill="none" stroke="#aaa" stroke-width=".6"/></g>
<!-- TR -->
<g transform="translate(925.8,557)"><g clip-path="url(#cc)"><rect x="-11" y="-11" width="22" height="22" fill="#e30a17"/><circle cx="-2" cy="0" r="5.5" fill="#fff"/><circle cx="-0.6" cy="0" r="4.4" fill="#e30a17"/><use href="#star" transform="translate(4.6,0) rotate(-18) scale(2.2)" fill="#fff"/></g><circle r="10.5" fill="url(#gl)"/><circle r="10.5" fill="none" stroke="#aaa" stroke-width=".6"/></g>
<!-- NO -->
<g transform="translate(967,557)"><g clip-path="url(#cc)"><rect x="-11" y="-11" width="22" height="22" fill="#d0102a"/><rect x="-6.5" y="-11" width="5" height="22" fill="#fff"/><rect x="-11" y="-2.5" width="22" height="5" fill="#fff"/><rect x="-5.3" y="-11" width="2.6" height="22" fill="#1f2f6a"/><rect x="-11" y="-1.3" width="22" height="2.6" fill="#1f2f6a"/></g><circle r="10.5" fill="url(#gl)"/><circle r="10.5" fill="none" stroke="#aaa" stroke-width=".6"/></g>
<!-- CH -->
<g transform="translate(995.9,557)"><g clip-path="url(#cc)"><rect x="-11" y="-11" width="22" height="22" fill="#d8202e"/><rect x="-1.8" y="-6" width="3.6" height="12" fill="#fff"/><rect x="-6" y="-1.8" width="12" height="3.6" fill="#fff"/></g><circle r="10.5" fill="url(#gl)"/><circle r="10.5" fill="none" stroke="#aaa" stroke-width=".6"/></g>
<!-- IL -->
<g transform="translate(1024.8,557)"><g clip-path="url(#cc)"><rect x="-11" y="-11" width="22" height="22" fill="#fff"/><rect x="-11" y="-8.2" width="22" height="2.2" fill="#1f3fa0"/><rect x="-11" y="6" width="22" height="2.2" fill="#1f3fa0"/><polygon points="0,-3.5 3,1.75 -3,1.75" fill="none" stroke="#1f3fa0" stroke-width=".7"/><polygon points="0,3.5 3,-1.75 -3,-1.75" fill="none" stroke="#1f3fa0" stroke-width=".7"/></g><circle r="10.5" fill="url(#gl)"/><circle r="10.5" fill="none" stroke="#aaa" stroke-width=".6"/></g>
<!-- JP -->
<g transform="translate(1053.7,557)"><g clip-path="url(#cc)"><rect x="-11" y="-11" width="22" height="22" fill="#fff"/><circle r="4.8" fill="#d81e2e"/></g><circle r="10.5" fill="url(#gl)"/><circle r="10.5" fill="none" stroke="#aaa" stroke-width=".6"/></g>
<!-- RU -->
<g transform="translate(1082.6,557)"><g clip-path="url(#cc)"><rect x="-11" y="-11" width="22" height="7.4" fill="#fff"/><rect x="-11" y="-3.7" width="22" height="7.4" fill="#1f3fa0"/><rect x="-11" y="3.7" width="22" height="7.4" fill="#d52b1e"/></g><circle r="10.5" fill="url(#gl)"/><circle r="10.5" fill="none" stroke="#aaa" stroke-width=".6"/></g>
<!-- IN -->
<g transform="translate(1111.5,557)"><g clip-path="url(#cc)"><rect x="-11" y="-11" width="22" height="7.4" fill="#ff9933"/><rect x="-11" y="-3.7" width="22" height="7.4" fill="#fff"/><rect x="-11" y="3.7" width="22" height="7.4" fill="#138808"/><circle r="2.2" fill="none" stroke="#1f3f9a" stroke-width=".7"/></g><circle r="10.5" fill="url(#gl)"/><circle r="10.5" fill="none" stroke="#aaa" stroke-width=".6"/></g>
<!-- US -->
<g transform="translate(1140.4,557)"><g clip-path="url(#cc)"><rect x="-11" y="-11" width="22" height="22" fill="#fff"/><g fill="#c8202e"><rect x="-11" y="-11" width="22" height="1.7"/><rect x="-11" y="-7.6" width="22" height="1.7"/><rect x="-11" y="-4.2" width="22" height="1.7"/><rect x="-11" y="-0.8" width="22" height="1.7"/><rect x="-11" y="2.6" width="22" height="1.7"/><rect x="-11" y="6" width="22" height="1.7"/><rect x="-11" y="9.4" width="22" height="1.7"/></g><rect x="-11" y="-11" width="11" height="11.8" fill="#2a3a8a"/></g><circle r="10.5" fill="url(#gl)"/><circle r="10.5" fill="none" stroke="#aaa" stroke-width=".6"/></g>
<!-- KR -->
<g transform="translate(1169.3,557)"><g clip-path="url(#cc)"><rect x="-11" y="-11" width="22" height="22" fill="#fff"/><path d="M-4.5 0A4.5 4.5 0 0 1 4.5 0Z" fill="#cd2e3a"/><path d="M-4.5 0A4.5 4.5 0 0 0 4.5 0Z" fill="#0047a0"/><g fill="#222"><rect x="-8.5" y="-7.5" width="3" height=".8" transform="rotate(40 -7 -7)"/><rect x="5.5" y="-7.5" width="3" height=".8" transform="rotate(-40 7 -7)"/><rect x="-8.5" y="6.5" width="3" height=".8" transform="rotate(-40 -7 7)"/><rect x="5.5" y="6.5" width="3" height=".8" transform="rotate(40 7 7)"/></g></g><circle r="10.5" fill="url(#gl)"/><circle r="10.5" fill="none" stroke="#aaa" stroke-width=".6"/></g>
<!-- BR -->
<g transform="translate(1198.2,557)"><g clip-path="url(#cc)"><rect x="-11" y="-11" width="22" height="22" fill="#1a9a3a"/><polygon points="0,-8 10,0 0,8 -10,0" fill="#f5d000"/><circle r="4" fill="#1f3f8a"/></g><circle r="10.5" fill="url(#gl)"/><circle r="10.5" fill="none" stroke="#aaa" stroke-width=".6"/></g>
<!-- CN -->
<g transform="translate(1227.1,557)"><g clip-path="url(#cc)"><rect x="-11" y="-11" width="22" height="22" fill="#de2910"/><use href="#star" transform="translate(-4.5,-3.5) scale(2.8)" fill="#ffde00"/><circle cx="-0.5" cy="-6.5" r=".7" fill="#ffde00"/><circle cx="1" cy="-4.5" r=".7" fill="#ffde00"/><circle cx="1" cy="-2" r=".7" fill="#ffde00"/><circle cx="-0.5" cy="0" r=".7" fill="#ffde00"/></g><circle r="10.5" fill="url(#gl)"/><circle r="10.5" fill="none" stroke="#aaa" stroke-width=".6"/></g>
</g>

<!-- LEGEND -->
<rect x="97" y="585" width="15" height="15" fill="#131c5c"/>
<text class="l" x="117" y="599">An employee</text>
<rect x="257" y="585" width="15" height="15" fill="#0c47dc"/>
<text class="l" x="277" y="599">Self-employed</text>
<rect x="435" y="585" width="15" height="15" fill="#cc3300"/>
<text class="l" x="456" y="599">None (DO NOT READ OUT)</text>
<rect x="689" y="585" width="15" height="15" fill="#c8c8c8"/>
<text class="l" x="710" y="599">Don't know (DO NOT READ OUT)</text>
</svg>
</body></html>
